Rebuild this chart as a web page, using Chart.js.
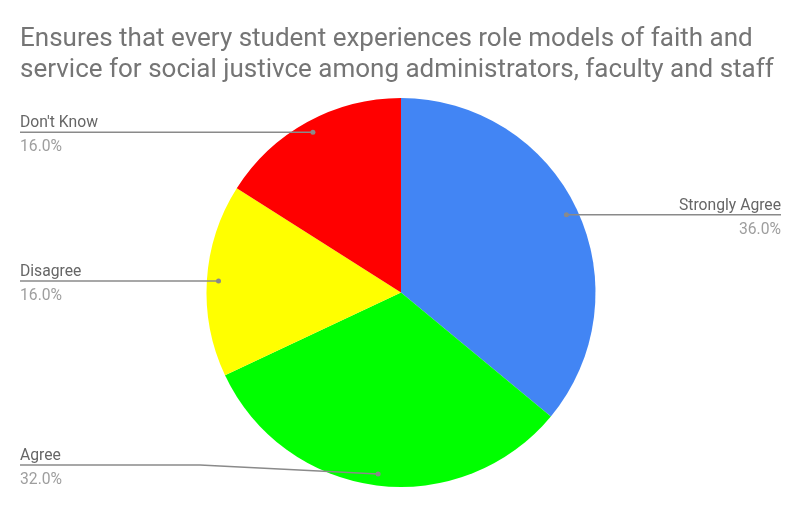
<!DOCTYPE html>
<html>
<head>
<meta charset="utf-8">
<script src="https://cdn.jsdelivr.net/npm/chart.js@4.4.0/dist/chart.umd.min.js"></script>
<style>
  html, body { margin: 0; padding: 0; background: #fff; }
  #wrap { width: 800px; height: 509px; position: relative; }
</style>
</head>
<body>
<div id="wrap"><canvas id="chart"></canvas></div>
<script>
const titleLines = [
  "Ensures that every student experiences role models of faith and",
  "service for social justivce among administrators, faculty and staff"
];
const categories = ["Strongly Agree", "Agree", "Disagree", "Don't Know"];
const values = [36, 32, 16, 16];
const sliceColors = ["#4285f4", "#00ff00", "#ffff00", "#ff0000"];

const FONT = "Roboto, 'Noto Sans', sans-serif";

function formatPercent(v, total) {
  return (v / total * 100).toFixed(1) + "%";
}

// title drawn in the top-left corner, like the original
const titlePlugin = {
  id: "leftTitle",
  afterDraw(chart) {
    const ctx = chart.ctx;
    ctx.save();
    ctx.fillStyle = "#757575";
    ctx.font = "26px " + FONT;
    ctx.textBaseline = "alphabetic";
    ctx.textAlign = "left";
    titleLines.forEach((line, i) => {
      ctx.fillText(line, 20, 46 + i * 31);
    });
    ctx.restore();
  }
};

// leader lines with name and percentage for each slice
const labelPlugin = {
  id: "sliceLabels",
  afterDraw(chart) {
    const ctx = chart.ctx;
    const meta = chart.getDatasetMeta(0);
    const data = chart.data.datasets[0].data;
    const total = data.reduce((a, b) => a + b, 0);
    const maxLineY = chart.height - 44;

    ctx.save();
    meta.data.forEach((arc, i) => {
      const mid = (arc.startAngle + arc.endAngle) / 2;
      const r = arc.outerRadius * 0.94;
      const dotX = arc.x + Math.cos(mid) * r;
      const dotY = arc.y + Math.sin(mid) * r;
      const right = Math.cos(mid) > 0;
      const lineY = Math.min(dotY, maxLineY);

      ctx.strokeStyle = "#8a8a8a";
      ctx.lineWidth = 1.5;
      ctx.beginPath();
      if (right) {
        ctx.moveTo(dotX, dotY);
        ctx.lineTo(781, lineY);
      } else {
        ctx.moveTo(20, lineY);
        if (lineY !== dotY) {
          ctx.lineTo(200, lineY);
        }
        ctx.lineTo(dotX, dotY);
      }
      ctx.stroke();

      ctx.fillStyle = "#8a8a8a";
      ctx.beginPath();
      ctx.arc(dotX, dotY, 2.5, 0, Math.PI * 2);
      ctx.fill();

      ctx.font = "15.7px " + FONT;
      ctx.textAlign = right ? "right" : "left";
      const tx = right ? 781 : 20;
      ctx.fillStyle = "#666666";
      ctx.fillText(chart.data.labels[i], tx, lineY - 5);
      ctx.fillStyle = "#9e9e9e";
      ctx.fillText(formatPercent(data[i], total), tx, lineY + 19);
    });
    ctx.restore();
  }
};

new Chart(document.getElementById("chart"), {
  type: "pie",
  data: {
    labels: categories,
    datasets: [
      {
        data: values,
        backgroundColor: sliceColors,
        borderWidth: 0,
      },
    ],
  },
  options: {
    responsive: true,
    maintainAspectRatio: false,
    animation: false,
    layout: {
      padding: { top: 98, bottom: 22, left: 2, right: 0 },
    },
    plugins: {
      legend: { display: false },
      tooltip: { enabled: false },
      title: { display: false },
    },
  },
  plugins: [titlePlugin, labelPlugin],
});
</script>
</body>
</html>
